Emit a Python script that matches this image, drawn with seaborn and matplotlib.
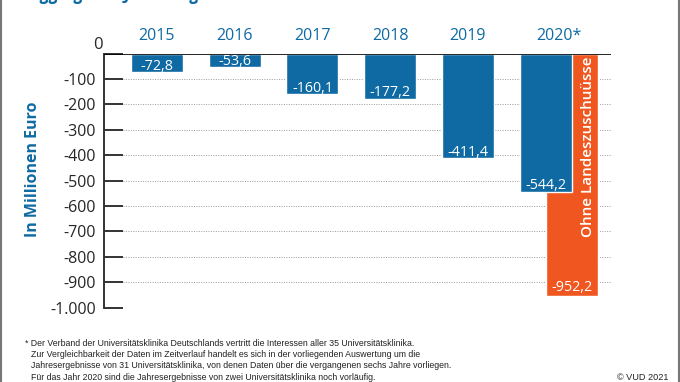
import pandas as pd
import matplotlib.pyplot as plt
import seaborn as sns
from matplotlib.patches import Rectangle

# Daten
jahre = ['2015', '2016', '2017', '2018', '2019', '2020*']
ergebnis = [-72.8, -53.6, -160.1, -177.2, -411.4, -544.2]
ohne_zuschuss_jahr = '2020*'
ohne_zuschuss = -952.2
y_ticks = [0, -100, -200, -300, -400, -500, -600, -700, -800, -900, -1000]
y_tick_labels = ['', '-100', '-200', '-300', '-400', '-500', '-600', '-700', '-800', '-900', '-1.000']

blau = '#0f6aa3'
orange = '#f0561f'

sns.set_style('white')
plt.rcParams['font.family'] = ['Open Sans', 'DejaVu Sans']

df = pd.DataFrame({'jahr': jahre, 'wert': ergebnis})

fig = plt.figure(figsize=(6.8, 3.82), dpi=100)
ax = fig.add_axes([0.153, 0.1945, 0.7455, 0.6652])

bw = 0.67
# orange Balken (hinter dem blauen 2020er Balken, halb versetzt)
i20 = jahre.index(ohne_zuschuss_jahr)
ax.bar(i20 + bw / 2, ohne_zuschuss, width=bw, color=orange, zorder=2)
sns.barplot(data=df, x='jahr', y='wert', order=jahre, color=blau, width=bw,
            saturation=1, ax=ax, zorder=3)

ax.set_xlim(-0.68, 5.84)
ax.set_ylim(-1000, 0)

# Gitterlinien gepunktet
for v in y_ticks[1:]:
    ax.hlines(v, -0.44, 5.84, colors='#9a9a9a', linestyles=(0, (1, 1.5)), linewidth=0.7, zorder=1)
ax.axhline(0, color='black', linewidth=1.2, zorder=4)

# Achsen
sns.despine(ax=ax, top=True, right=True, bottom=True)
ax.spines['left'].set_color('#333333')
ax.spines['left'].set_linewidth(1.4)
ax.set_yticks(y_ticks)
ax.set_yticklabels(y_tick_labels, fontsize=11.5)
ax.tick_params(axis='y', left=True, direction='in', length=14, width=1.4, color='#333333', pad=6)
ax.set_xticks([])
ax.set_xlabel('')
ax.set_ylabel('In Millionen Euro', color=blau, fontsize=11.5, fontweight='bold')
ax.yaxis.set_label_coords(-0.125, 0.545)
ax.text(-0.76, 35, '0', ha='center', va='center', fontsize=12)

# Jahresbeschriftung oben
for i, j in enumerate(jahre):
    xpos = i + (bw / 4 if j == ohne_zuschuss_jahr else 0)
    ax.text(xpos, 70, j, ha='center', va='center', color=blau, fontsize=11.5)

# Wertebeschriftung
def fmt(v):
    return f'{v:.1f}'.replace('.', ',')

for i, v in enumerate(ergebnis):
    ax.annotate(fmt(v), (i, v), xytext=(0, 1.8), textcoords='offset points',
                ha='center', va='baseline', color='white', fontsize=10.3, zorder=5)
ax.annotate(fmt(ohne_zuschuss), (i20 + bw / 2, ohne_zuschuss), xytext=(0, 3.5),
            textcoords='offset points', ha='center', va='baseline', color='white',
            fontsize=10.3, zorder=5)
ax.text(i20 + 0.54, -365, 'Ohne Landeszuschuüsse', rotation=90, ha='center',
        va='center', color='white', fontsize=11, fontweight='semibold', zorder=5)

# Titel (oben abgeschnitten)
fig.text(0.044, 1.012, 'Aggregierte Jahresergebnisse der Uniklinika', color=blau,
         fontsize=12, fontweight='bold', style='italic', ha='left', va='center')

# Fußnote
fn = ['* Der Verband der Universitätsklinika Deutschlands vertritt die Interessen aller 35 Universitätsklinika.',
      'Zur Vergleichbarkeit der Daten im Zeitverlauf handelt es sich in der vorliegenden Auswertung um die',
      'Jahresergebnisse von 31 Universitätsklinika, von denen Daten über die vergangenen sechs Jahre vorliegen.',
      'Für das Jahr 2020 sind die Jahresergebnisse von zwei Universitätsklinika noch vorläufig.']
for k, line in enumerate(fn):
    fig.text(25 / 680 if k == 0 else 31 / 680, 1 - (343 + k * 11.5) / 382, line,
             fontsize=6.35, family=['Liberation Sans', 'DejaVu Sans'],
             ha='left', va='center', color='#222222')
fig.text(0.983, 1 - 378 / 382, '© VUD 2021', fontsize=6.6, ha='right', va='center',
         family=['Liberation Sans', 'DejaVu Sans'], color='#222222')

# Rahmen
fig.patches.append(Rectangle((0.0015, -0.01), 0.997, 1.02, transform=fig.transFigure,
                             fill=False, edgecolor='#777777', linewidth=1.5))

fig.savefig('out.png', dpi=100)
